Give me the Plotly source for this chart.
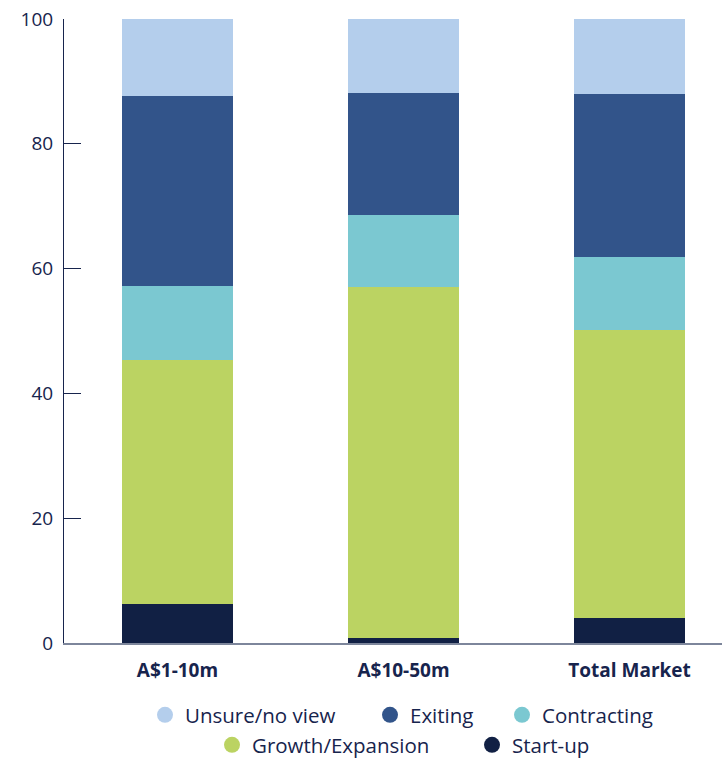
import plotly.graph_objects as go

categories = ["A$1-10m", "A$10-50m", "Total Market"]

start_up = [6.3, 0.8, 4.0]
growth = [39.1, 56.3, 46.2]
contracting = [11.8, 11.5, 11.7]
exiting = [30.4, 19.6, 26.1]
unsure = [12.4, 11.8, 12.4]

y_ticks = [0, 20, 40, 60, 80, 100]

TEXT = "#17244d"
FONT = "Open Sans"
W, H = 722, 760

# stacked from the bottom up: (name, values, colour)
series = [
    ("Start-up", start_up, "#112044"),
    ("Growth/Expansion", growth, "#bbd362"),
    ("Contracting", contracting, "#7bc8d1"),
    ("Exiting", exiting, "#32548a"),
    ("Unsure/no view", unsure, "#b4ceec"),
]

fig = go.Figure()
for name, vals, color in series:
    fig.add_trace(go.Bar(
        x=categories, y=vals, name=name,
        marker=dict(color=color, line=dict(width=0)),
        showlegend=False,
    ))

# plot area in pixels
L, T, PW, PH = 64, 19, 658, 624

# each key gets its own legend so the two rows can be laid out freely;
# positions are key-centre pixels in the page
legend_keys = [
    ("Unsure/no view", 164, 715),
    ("Exiting", 389, 715),
    ("Contracting", 521, 715),
    ("Growth/Expansion", 231, 745),
    ("Start-up", 491, 745),
]
colors = {name: color for name, _, color in series}
legend_layout = {}
for i, (name, cx, cy) in enumerate(legend_keys):
    leg = "legend" if i == 0 else f"legend{i + 1}"
    fig.add_trace(go.Scatter(
        x=[None], y=[None], mode="markers", name=name,
        marker=dict(symbol="circle", size=18, color=colors[name]),
        legend=leg, showlegend=True,
    ))
    legend_layout[leg] = dict(
        orientation="h",
        xref="container", x=(cx - 19) / W, xanchor="left",
        yref="container", y=1 - cy / H, yanchor="middle",
        font=dict(family=FONT, size=20.5, color=TEXT),
        itemwidth=30, bgcolor="rgba(0,0,0,0)",
    )

fig.update_layout(
    barmode="stack",
    bargap=0.509,
    width=W, height=H,
    margin=dict(l=L, r=0, t=T, b=H - T - PH, autoexpand=False),
    paper_bgcolor="white", plot_bgcolor="white",
    font=dict(family=FONT, color=TEXT, size=19),
    **legend_layout,
)

fig.update_xaxes(
    type="category",
    range=[-0.502, 2.409],
    showline=True, linecolor="#7d869b", linewidth=2,
    ticks="", showgrid=False, zeroline=False,
    tickfont=dict(family=FONT, size=19, color=TEXT, weight="bold"),
    ticklabelstandoff=9,
)
fig.update_yaxes(
    range=[0, 100],
    tickvals=y_ticks,
    showline=True, linecolor=TEXT, linewidth=1,
    ticks="inside", ticklen=17, tickcolor=TEXT, tickwidth=1,
    showgrid=False, zeroline=False,
    tickfont=dict(family=FONT, size=19, color=TEXT),
    ticklabelstandoff=6,
)

fig.write_html("out.html")
